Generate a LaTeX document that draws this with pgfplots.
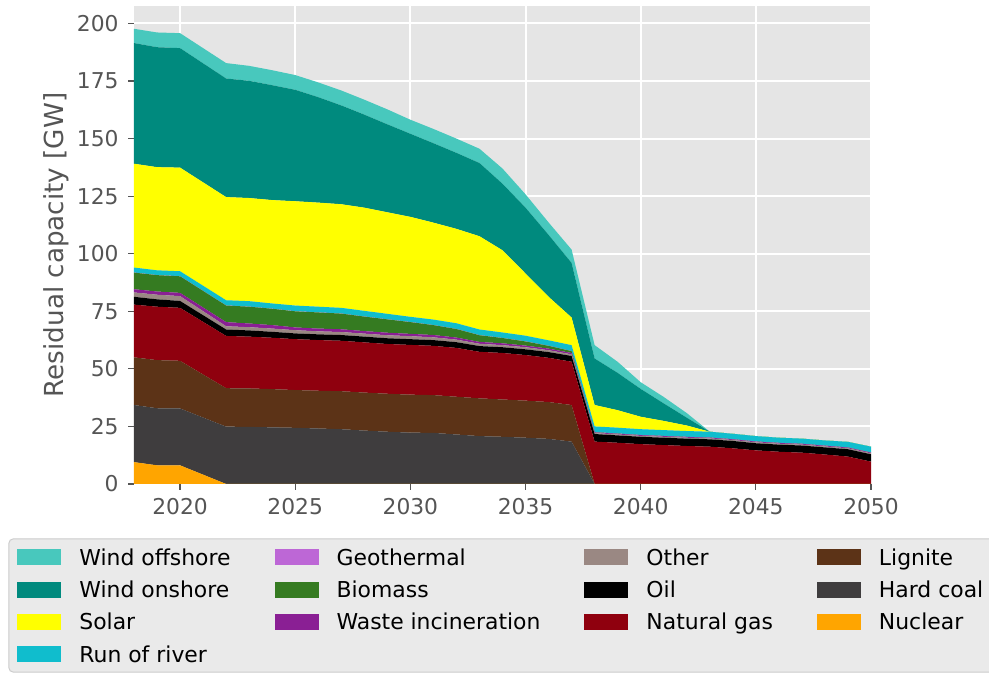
\documentclass[border=0pt]{standalone}
\usepackage{fontspec}
\setmainfont{DejaVu Sans}
\usepackage{pgfplots}
\pgfplotsset{compat=1.18}
\usepackage{pgfplotstable}
\usetikzlibrary{backgrounds}

\definecolor{cOff}{HTML}{48C8BD}
\definecolor{cOn}{HTML}{008A7E}
\definecolor{cSolar}{HTML}{FFFF00}
\definecolor{cRor}{HTML}{10BDCD}
\definecolor{cGeo}{HTML}{BD67D6}
\definecolor{cBio}{HTML}{357B21}
\definecolor{cWaste}{HTML}{8A1F94}
\definecolor{cOther}{HTML}{9A8883}
\definecolor{cOil}{HTML}{000000}
\definecolor{cGas}{HTML}{8F000E}
\definecolor{cLig}{HTML}{5C3317}
\definecolor{cHc}{HTML}{3F3D3E}
\definecolor{cNuc}{HTML}{FFA500}
\definecolor{ggbg}{HTML}{E5E5E5}
\definecolor{tickgray}{HTML}{555555}
\definecolor{legbg}{HTML}{EAEAEA}
\definecolor{legedge}{HTML}{CCCCCC}

\pgfplotstableread{
year nuc hc lig gas oil oth waste geo bio ror solar on off
2018 9.5 24.8 20.7 22.9 3.4 1.9 1.4 0.05 7.2 2.15 45.1 52.4 6.2
2019 8.1 24.8 20.9 23.2 3.2 2.0 1.4 0.05 7.1 2.05 44.8 52.1 6.4
2020 8.1 24.7 20.7 23.0 3.0 2.1 1.4 0.05 7.2 2.15 45.0 51.9 6.5
2022 0 24.9 16.7 22.7 2.8 1.4 1.8 0.05 7.2 2.25 44.8 51.5 6.7
2023 0 24.8 16.7 22.5 2.7 1.4 1.6 0.05 7.3 2.35 44.8 50.9 6.5
2024 0 24.6 16.6 22.3 2.6 1.4 1.5 0.05 7.1 2.25 44.9 49.9 6.5
2025 0 24.4 16.4 22.1 2.5 1.4 1.2 0.05 7.0 2.45 45.3 48.4 6.4
2026 0 24.1 16.4 22.0 2.5 1.3 1.2 0.05 7.0 2.45 45.2 45.8 6.4
2027 0 23.8 16.5 21.9 2.5 1.3 1.2 0.05 6.8 2.45 45.0 42.9 6.5
2028 0 23.2 16.5 21.8 2.5 1.3 1.1 0.05 6.3 2.45 44.8 40.4 6.5
2029 0 22.7 16.5 21.6 2.5 1.3 1.1 0.05 5.8 2.35 44.1 38.2 6.5
2030 0 22.3 16.5 21.6 2.5 1.3 1.0 0.05 5.1 2.25 43.4 36.1 6.1
2031 0 22.2 16.4 21.4 2.5 1.2 1.0 0.05 4.3 2.35 42.1 34.5 6.2
2032 0 21.5 16.4 21.2 2.5 1.1 0.9 0.05 3.7 2.45 41.0 33.0 6.2
2033 0 20.8 16.4 20.2 2.5 1.0 0.8 0.05 2.9 2.45 40.5 31.8 6.2
2034 0 20.5 16.2 20.2 2.5 0.9 0.8 0.05 2.3 2.35 35.7 28.9 6.6
2035 0 20.1 16.1 19.8 2.5 0.9 0.7 0.05 1.8 2.45 27.0 28.6 5.8
2036 0 19.6 16.0 19.2 2.5 0.8 0.7 0.05 1.2 2.35 18.9 26.9 5.4
2037 0 18.4 15.9 18.8 2.5 0.7 0.6 0.05 0.8 2.55 12.0 23.7 5.8
2038 0 0 0 18.4 3.3 0.4 0.3 0.05 0.1 2.45 9.3 20.2 5.8
2039 0 0 0 17.9 3.2 0.4 0.3 0.05 0.1 2.5 7.6 16.2 4.8
2040 0 0 0 17.3 3.2 0.4 0.3 0.05 0.05 2.5 5.4 12.1 2.9
2041 0 0 0 16.9 3.2 0.4 0.3 0.05 0.05 2.5 4.0 7.6 2.8
2042 0 0 0 16.5 3.2 0.4 0.3 0.05 0.05 2.5 2.4 3.4 2.0
2043 0 0 0 16.2 3.2 0.4 0.3 0.05 0.05 2.5 0 0 0
2044 0 0 0 15.5 3.2 0.4 0.3 0.05 0.05 2.3 0 0 0
2045 0 0 0 14.6 3.1 0.4 0.3 0.05 0.05 2.3 0 0 0
2046 0 0 0 14.0 3.1 0.4 0.3 0.05 0.05 2.2 0 0 0
2047 0 0 0 13.6 3.1 0.4 0.3 0.05 0.05 2.2 0 0 0
2048 0 0 0 12.8 3.1 0.4 0.3 0.05 0.05 2.2 0 0 0
2049 0 0 0 11.9 3.2 0.4 0.3 0.05 0.05 2.4 0 0 0
2050 0 0 0 9.7 3.2 0.4 0.3 0.05 0.05 2.5 0 0 0
}\data

\begin{document}
\begin{tikzpicture}
\begin{axis}[
  name=ax,
  width=368.5pt, height=239pt, scale only axis,
  xmin=2018, xmax=2050, ymin=0, ymax=207.6,
  stack plots=y,
  axis background/.style={fill=ggbg},
  axis line style={draw=none},
  grid=major,
  major grid style={white, line width=1pt},
  xtick={2020,2025,...,2050},
  ytick={0,25,...,200},
  xtick pos=lower, ytick pos=left,
  tick align=outside,
  major tick length=3pt,
  tick style={color=tickgray, line width=0.6pt},
  /pgf/number format/assume math mode=true,
  /pgf/number format/1000 sep={},
  ticklabel style={font=\fontsize{10.9}{13}\selectfont, text=tickgray},
  xticklabel style={anchor=base, inner sep=0pt, yshift=-12.5pt},
  yticklabel style={anchor=east, inner sep=0pt, xshift=-4.5pt},
  ylabel={Residual capacity [GW]},
  ylabel style={font=\fontsize{13.1}{15}\selectfont, text=tickgray, at={(axis description cs:-0.0963,0.5)}, anchor=base, inner sep=0pt},
]
\addplot[fill=cNuc, draw=none] table[x=year,y=nuc]{\data} \closedcycle;
\addplot[fill=cHc, draw=none] table[x=year,y=hc]{\data} \closedcycle;
\addplot[fill=cLig, draw=none] table[x=year,y=lig]{\data} \closedcycle;
\addplot[fill=cGas, draw=none] table[x=year,y=gas]{\data} \closedcycle;
\addplot[fill=cOil, draw=none] table[x=year,y=oil]{\data} \closedcycle;
\addplot[fill=cOther, draw=none] table[x=year,y=oth]{\data} \closedcycle;
\addplot[fill=cWaste, draw=none] table[x=year,y=waste]{\data} \closedcycle;
\addplot[fill=cBio, draw=none] table[x=year,y=bio]{\data} \closedcycle;
\addplot[fill=cGeo, draw=none] table[x=year,y=geo]{\data} \closedcycle;
\addplot[fill=cRor, draw=none] table[x=year,y=ror]{\data} \closedcycle;
\addplot[fill=cSolar, draw=none] table[x=year,y=solar]{\data} \closedcycle;
\addplot[fill=cOn, draw=none] table[x=year,y=on]{\data} \closedcycle;
\addplot[fill=cOff, draw=none] table[x=year,y=off]{\data} \closedcycle;
\end{axis}
\begin{axis}[
  at={(ax.south west)}, anchor=south west,
  width=368.5pt, height=239pt, scale only axis,
  hide axis, xmin=0, xmax=1, ymin=0, ymax=1,
  legend columns=4,
  legend cell align=left,
  legend image code/.code={\fill[#1] (0pt,-4pt) rectangle (22pt,4pt);},
  legend style={at={(axis description cs:-0.15875,-0.11895)}, anchor=north west,
    draw=none, fill=none, inner sep=0pt, row sep=0pt,
    font=\fontsize{10.95}{13}\selectfont,
    nodes={inner sep=0pt, text height=12.07pt, text depth=4.07pt},
    /tikz/every odd column/.style={column sep=9pt},
    /tikz/every even column/.style={column sep=22pt}},
]
\addlegendimage{fill=cOff, draw=none}\addlegendentry{Wind offshore}
\addlegendimage{fill=cGeo, draw=none}\addlegendentry{Geothermal}
\addlegendimage{fill=cOther, draw=none}\addlegendentry{Other}
\addlegendimage{fill=cLig, draw=none}\addlegendentry{Lignite}
\addlegendimage{fill=cOn, draw=none}\addlegendentry{Wind onshore}
\addlegendimage{fill=cBio, draw=none}\addlegendentry{Biomass}
\addlegendimage{fill=cOil, draw=none}\addlegendentry{Oil}
\addlegendimage{fill=cHc, draw=none}\addlegendentry{Hard coal}
\addlegendimage{fill=cSolar, draw=none}\addlegendentry{Solar}
\addlegendimage{fill=cWaste, draw=none}\addlegendentry{Waste incineration}
\addlegendimage{fill=cGas, draw=none}\addlegendentry{Natural gas}
\addlegendimage{fill=cNuc, draw=none}\addlegendentry{Nuclear}
\addlegendimage{fill=cRor, draw=none}\addlegendentry{Run of river}
\end{axis}
\begin{scope}[on background layer]
\filldraw[fill=legbg, draw=legedge, line width=0.5pt, rounded corners=2pt]
  ([xshift=-62.5pt, yshift=-27.5pt]ax.south west) rectangle ([xshift=600pt, yshift=-94pt]ax.south west);
\end{scope}
\pgfresetboundingbox
\path[use as bounding box] ([xshift=-67pt,yshift=-94.5pt]ax.south west) rectangle ([xshift=427.5pt,yshift=242pt]ax.south west);
\end{tikzpicture}
\end{document}
